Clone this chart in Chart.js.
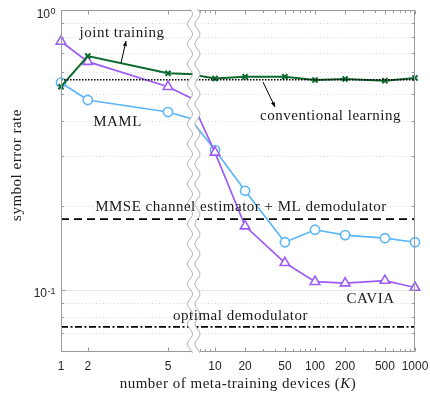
<!DOCTYPE html>
<html lang="en">

<head>
    <meta charset="UTF-8">
    <title>symbol error rate vs number of meta-training devices</title>
    <script src="https://cdn.jsdelivr.net/npm/chart.js"></script>
    <style>
        html, body { margin: 0; padding: 0; background: #fff; }
    </style>
</head>

<body>
    <canvas id="myChart" width="430" height="396"></canvas>
<script>
    // number of meta-training devices K
    const devices = [1, 2, 5, 10, 20, 50, 100, 200, 500, 1000];
    const caviaSer = [0.772, 0.654, 0.532, 0.310, 0.169, 0.125, 0.107, 0.1057, 0.108, 0.102];
    const mamlSer = [0.550, 0.477, 0.432, 0.316, 0.226, 0.148, 0.164, 0.157, 0.153, 0.148];
    const jointSer = [0.532, 0.685, 0.594, 0.569, 0.578, 0.578, 0.562, 0.567, 0.559, 0.572];
    // flat reference levels
    const conventionalLevel = 0.563;
    const mmseLevel = 0.179;
    const optimalLevel = 0.0738;

    const xTicks = [1, 2, 5, 10, 20, 50, 100, 200, 500, 1000];
    const xMinorTicks = [7, 8, 9, 30, 40, 60, 70, 80, 90, 300, 400, 600, 700, 800, 900];
    const yTicks = [0.1, 1];
    const yMinorTicks = [0.07, 0.08, 0.09, 0.2, 0.3, 0.4, 0.5, 0.6, 0.7, 0.8, 0.9];

    // broken x axis: linear for K = 1..5, log for K >= 10, both on one linear scale
    const LEFT_END = 5.8;
    const RIGHT_START = 6.6;
    const leftPos = k => (k - 1) * 26.75;
    const rightPos = k => 154 + 100 * Math.log10(k / 10);
    const xPos = k => (k <= LEFT_END ? leftPos(k) : rightPos(k));
    const X_MAX = rightPos(1000);

    const serif = '"Liberation Serif", "Times New Roman", serif';
    const sans = '"Liberation Sans", Arial, sans-serif';
    const axisGray = '#9a9a9a';
    const textColor = '#1a1a1a';

    const purple = '#9d5cf6';
    const blue = '#5bb6f7';
    const green = '#0c6a2e';

    function seriesDataset(values, color, look, side) {
        const pos = side === 'left' ? leftPos : rightPos;
        return {
            side: side,
            data: devices.map((k, i) => ({ x: pos(k), y: values[i] })),
            borderColor: color,
            borderWidth: look.width,
            pointStyle: look.point,
            pointRadius: look.radius,
            pointBorderWidth: look.pointWidth,
            pointBorderColor: color,
            pointBackgroundColor: '#fff',
            clip: false,
            order: look.order
        };
    }

    function levelDataset(value, dash, width, order) {
        return {
            data: [{ x: 0, y: value }, { x: X_MAX, y: value }],
            borderColor: '#000',
            borderWidth: width,
            borderDash: dash,
            pointRadius: 0,
            order: order
        };
    }

    const caviaLook = { width: 1.7, point: 'triangle', radius: 5.5, pointWidth: 1.6, order: 4 };
    const mamlLook = { width: 1.7, point: 'circle', radius: 4.6, pointWidth: 1.6, order: 5 };
    const jointLook = { width: 2, point: 'crossRot', radius: 3.6, pointWidth: 2, order: 3 };

    const datasets = [];
    ['left', 'right'].forEach(side => {
        datasets.push(seriesDataset(mamlSer, blue, mamlLook, side));
        datasets.push(seriesDataset(caviaSer, purple, caviaLook, side));
        datasets.push(seriesDataset(jointSer, green, jointLook, side));
    });
    datasets.push(levelDataset(optimalLevel, [7, 2.5, 2, 2.5], 1.8, 2));
    datasets.push(levelDataset(mmseLevel, [8, 5], 1.8, 1));
    datasets.push(levelDataset(conventionalLevel, [1.5, 1.5], 1.5, 0));

    const notes = [
        { text: 'joint training', x: 122, y: 37 },
        { text: 'MAML', x: 117.5, y: 126 },
        { text: 'conventional learning', x: 330.5, y: 120 },
        { text: 'MMSE channel estimator + ML demodulator', x: 241, y: 210.5 },
        { text: 'optimal demodulator', x: 240.5, y: 320 },
        { text: 'CAVIA', x: 370.5, y: 303 }
    ];
    const arrows = [
        { from: [121, 63], to: [126, 41] },
        { from: [263, 82], to: [275, 107] }
    ];

    function breakEdges(chart) {
        const x = chart.scales.x;
        return [x.getPixelForValue(leftPos(LEFT_END)), x.getPixelForValue(rightPos(RIGHT_START))];
    }

    function seg(ctx, x1, y1, x2, y2) {
        ctx.beginPath();
        ctx.moveTo(x1, y1);
        ctx.lineTo(x2, y2);
        ctx.stroke();
    }

    function wave(ctx, cx, top, bottom, down) {
        const pts = [];
        for (let py = top; py <= bottom; py += 1) {
            pts.push([cx + 2.5 * Math.sin((py - top) / 20 * 2 * Math.PI), py]);
        }
        return down ? pts : pts.reverse();
    }

    const brokenAxis = {
        id: 'brokenAxis',
        beforeDatasetsDraw(chart) {
            const { ctx, chartArea: a, scales: { y } } = chart;
            ctx.save();
            ctx.lineWidth = 1;
            ctx.strokeStyle = '#d6d6d6';
            ctx.setLineDash([1, 2.5]);
            yMinorTicks.forEach(v => {
                const py = Math.round(y.getPixelForValue(v)) + 0.5;
                seg(ctx, a.left, py, a.right, py);
            });
            ctx.setLineDash([]);
            ctx.strokeStyle = '#e6e6e6';
            yTicks.forEach(v => {
                const py = Math.round(y.getPixelForValue(v)) + 0.5;
                seg(ctx, a.left, py, a.right, py);
            });
            ctx.restore();
        },
        beforeDatasetDraw(chart, args) {
            const side = chart.data.datasets[args.index].side;
            if (!side) return;
            const { ctx } = chart;
            const edges = breakEdges(chart);
            const cut = (edges[0] + edges[1]) / 2;
            ctx.save();
            ctx.beginPath();
            if (side === 'left') ctx.rect(0, 0, cut, chart.height);
            else ctx.rect(cut, 0, chart.width - cut, chart.height);
            ctx.clip();
        },
        afterDatasetDraw(chart, args) {
            if (chart.data.datasets[args.index].side) chart.ctx.restore();
        },
        afterDatasetsDraw(chart) {
            const { ctx, chartArea: a, scales: { x, y } } = chart;
            const L = a.left + 0.5, R = a.right - 0.5, T = a.top + 0.5, B = a.bottom - 0.5;
            ctx.save();

            // box and inward ticks
            ctx.strokeStyle = axisGray;
            ctx.lineWidth = 1;
            ctx.strokeRect(L, T, R - L, B - T);
            xTicks.forEach(k => {
                const px = Math.round(x.getPixelForValue(xPos(k))) + 0.5;
                seg(ctx, px, B, px, B - 4);
                seg(ctx, px, T, px, T + 4);
            });
            xMinorTicks.forEach(k => {
                const px = Math.round(x.getPixelForValue(xPos(k))) + 0.5;
                seg(ctx, px, B, px, B - 2.5);
                seg(ctx, px, T, px, T + 2.5);
            });
            yTicks.forEach(v => {
                const py = Math.round(y.getPixelForValue(v)) + 0.5;
                seg(ctx, L, py, L + 4, py);
                seg(ctx, R, py, R - 4, py);
            });
            yMinorTicks.forEach(v => {
                const py = Math.round(y.getPixelForValue(v)) + 0.5;
                seg(ctx, L, py, L + 2.5, py);
                seg(ctx, R, py, R - 2.5, py);
            });

            // the break
            const edges = breakEdges(chart);
            const lw = wave(ctx, edges[0] + 0.6, a.top - 1, a.bottom + 1, true);
            const rw = wave(ctx, edges[1] + 0.5, a.top - 1, a.bottom + 1, false);
            ctx.fillStyle = '#fff';
            ctx.beginPath();
            lw.concat(rw).forEach((p, i) => (i ? ctx.lineTo(p[0], p[1]) : ctx.moveTo(p[0], p[1])));
            ctx.closePath();
            ctx.fill();
            ctx.strokeStyle = '#b4b4b4';
            [lw, rw].forEach(w => {
                ctx.beginPath();
                w.forEach((p, i) => (i ? ctx.lineTo(p[0], p[1]) : ctx.moveTo(p[0], p[1])));
                ctx.stroke();
            });

            // tick labels
            ctx.fillStyle = '#262626';
            ctx.font = '12px ' + sans;
            ctx.textAlign = 'center';
            ctx.textBaseline = 'alphabetic';
            xTicks.forEach(k => {
                ctx.fillText(String(k), x.getPixelForValue(xPos(k)), a.bottom + 18);
            });
            yTicks.forEach(v => {
                const py = y.getPixelForValue(v);
                const exp = String(Math.round(Math.log10(v)));
                ctx.textAlign = 'left';
                ctx.font = '9px ' + sans;
                const ew = ctx.measureText(exp).width;
                ctx.font = '12px ' + sans;
                const bw = ctx.measureText('10').width;
                const x0 = a.left - 6 - ew - bw;
                ctx.fillText('10', x0, py + 7.5);
                ctx.font = '9px ' + sans;
                ctx.fillText(exp, x0 + bw + 0.5, py + 4);
            });

            // annotations
            ctx.fillStyle = textColor;
            ctx.font = '15px ' + serif;
            ctx.letterSpacing = '0.5px';
            ctx.textAlign = 'center';
            notes.forEach(n => ctx.fillText(n.text, n.x, n.y));

            ctx.strokeStyle = '#000';
            ctx.lineWidth = 1;
            arrows.forEach(ar => {
                const [x1, y1] = ar.from, [x2, y2] = ar.to;
                const ang = Math.atan2(y2 - y1, x2 - x1);
                seg(ctx, x1, y1, x2, y2);
                ctx.fillStyle = '#000';
                ctx.beginPath();
                ctx.moveTo(x2, y2);
                ctx.lineTo(x2 - 5 * Math.cos(ang) + 2 * Math.sin(ang), y2 - 5 * Math.sin(ang) - 2 * Math.cos(ang));
                ctx.lineTo(x2 - 5 * Math.cos(ang) - 2 * Math.sin(ang), y2 - 5 * Math.sin(ang) + 2 * Math.cos(ang));
                ctx.closePath();
                ctx.fill();
            });

            // axis titles
            ctx.fillStyle = textColor;
            const parts = [['number of meta-training devices (', ''], ['K', 'italic '], [')', '']];
            const widths = parts.map(p => { ctx.font = p[1] + '15px ' + serif; return ctx.measureText(p[0]).width; });
            let tx = 238 - widths.reduce((s, w) => s + w, 0) / 2;
            ctx.textAlign = 'left';
            parts.forEach((p, i) => {
                ctx.font = p[1] + '15px ' + serif;
                ctx.fillText(p[0], tx, 388);
                tx += widths[i];
            });

            ctx.save();
            ctx.translate(21, 165);
            ctx.rotate(-Math.PI / 2);
            ctx.textAlign = 'center';
            ctx.font = '15px ' + serif;
            ctx.fillText('symbol error rate', 0, 0);
            ctx.restore();

            ctx.letterSpacing = '0px';
            ctx.restore();
        }
    };

    const config = {
        type: 'line',
        data: { datasets: datasets },
        options: {
            responsive: false,
            animation: false,
            events: [],
            layout: { padding: { left: 61, right: 15, top: 10, bottom: 44 } },
            plugins: {
                legend: { display: false },
                tooltip: { enabled: false }
            },
            elements: { line: { tension: 0 } },
            scales: {
                x: { type: 'linear', min: 0, max: X_MAX, display: false },
                y: { type: 'logarithmic', min: 0.06, max: 1, display: false }
            }
        },
        plugins: [brokenAxis]
    };

    const myChart = new Chart(document.getElementById('myChart'), config);
</script>
</body>

</html>
